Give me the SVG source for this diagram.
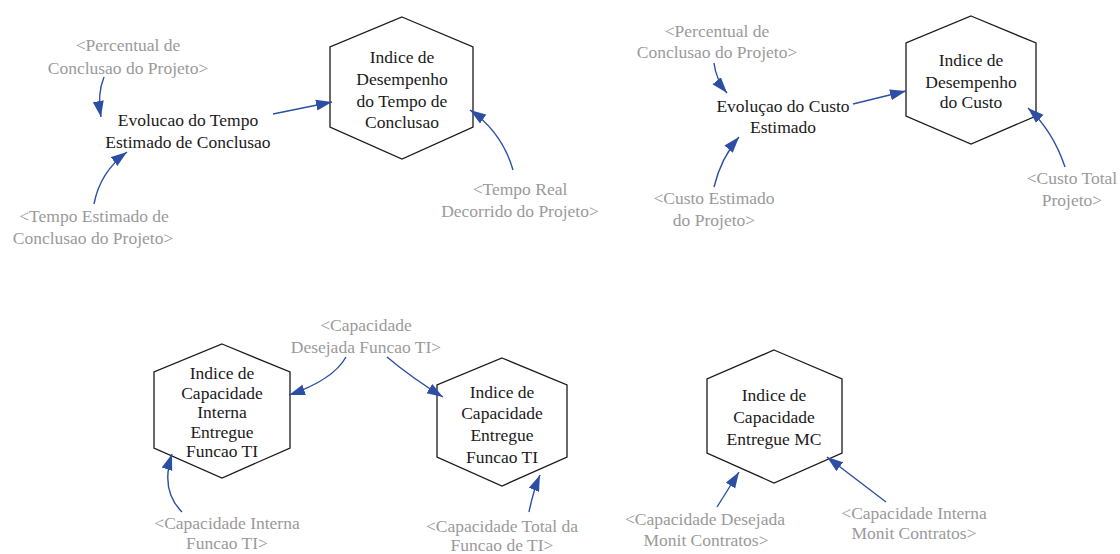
<svg xmlns="http://www.w3.org/2000/svg" width="1120" height="554" viewBox="0 0 1120 554" font-family="'Liberation Serif', 'Times New Roman', Tinos, 'DejaVu Serif', serif">
<style>
text{font-family:'Liberation Serif','Times New Roman',Tinos,'DejaVu Serif',serif;font-size:17.5px;text-anchor:middle}
.n{fill:#1a1a1a}
.g{fill:#9a9a9a}
.hex{fill:#ffffff;stroke:#1a1a1a;stroke-width:1.3}
.c{fill:none;stroke:#2c4fa3;stroke-width:1.4;marker-end:url(#ah)}
</style>
<defs>
<marker id="ah" markerUnits="userSpaceOnUse" markerWidth="18" markerHeight="12" refX="16" refY="6" orient="auto">
<path d="M0,0.5 L16,6 L0,11.5 z" fill="#2c4fa3"/>
</marker>
</defs>
<rect width="1120" height="554" fill="#ffffff"/>

<g id="n_perc1"><text class="g" x="128" y="51">&lt;Percentual de</text><text class="g" x="128" y="74">Conclusao do Projeto&gt;</text></g>
<g id="n_evol_tempo"><text class="n" x="188" y="126">Evolucao do Tempo</text><text class="n" x="188" y="148">Estimado de Conclusao</text></g>
<g id="n_idt"><polygon class="hex" points="402,17 473,47 473,127 402,159 330,127 330,47"/>
<text class="n" x="402" y="63">Indice de</text><text class="n" x="402" y="85">Desempenho</text><text class="n" x="402" y="107">do Tempo de</text><text class="n" x="402" y="128">Conclusao</text></g>
<g id="n_treal"><text class="g" x="520" y="195">&lt;Tempo Real</text><text class="g" x="520" y="217">Decorrido do Projeto&gt;</text></g>
<g id="n_test"><text class="g" x="94" y="222">&lt;Tempo Estimado de</text><text class="g" x="93" y="244">Conclusao do Projeto&gt;</text></g>

<g id="n_perc2"><text class="g" x="717" y="37">&lt;Percentual de</text><text class="g" x="717" y="58">Conclusao do Projeto&gt;</text></g>
<g id="n_evol_custo"><text class="n" x="783" y="112">Evoluçao do Custo</text><text class="n" x="783" y="133">Estimado</text></g>
<g id="n_idc"><polygon class="hex" points="971,16 1036,43 1036,116 971,144 906,116 906,43"/>
<text class="n" x="971" y="66">Indice de</text><text class="n" x="971" y="88">Desempenho</text><text class="n" x="971" y="108">do Custo</text></g>
<g id="n_ctotal"><text class="g" x="1072" y="184">&lt;Custo Total</text><text class="g" x="1072" y="206">Projeto&gt;</text></g>
<g id="n_cest"><text class="g" x="714" y="204">&lt;Custo Estimado</text><text class="g" x="714" y="226">do Projeto&gt;</text></g>

<g id="n_capdes"><text class="g" x="366" y="331">&lt;Capacidade</text><text class="g" x="366" y="353">Desejada Funcao TI&gt;</text></g>
<g id="n_icie"><polygon class="hex" points="222,344 290,372 290,448 222,478 154,448 154,372"/>
<text class="n" x="222" y="379">Indice de</text><text class="n" x="222" y="399">Capacidade</text><text class="n" x="222" y="418">Interna</text><text class="n" x="222" y="438">Entregue</text><text class="n" x="222" y="457">Funcao TI</text></g>
<g id="n_ice"><polygon class="hex" points="502,358 567,385 567,457 502,486 437,457 437,385"/>
<text class="n" x="502" y="398">Indice de</text><text class="n" x="502" y="419">Capacidade</text><text class="n" x="502" y="441">Entregue</text><text class="n" x="502" y="463">Funcao TI</text></g>
<g id="n_capint"><text class="g" x="227" y="529">&lt;Capacidade Interna</text><text class="g" x="227" y="549">Funcao TI&gt;</text></g>
<g id="n_captot"><text class="g" x="502" y="532">&lt;Capacidade Total da</text><text class="g" x="502" y="551">Funcao de TI&gt;</text></g>

<g id="n_icmc"><polygon class="hex" points="774,350 842,379 842,453 774,483 707,453 707,379"/>
<text class="n" x="774" y="401">Indice de</text><text class="n" x="774" y="423">Capacidade</text><text class="n" x="774" y="445">Entregue MC</text></g>
<g id="n_capdesmc"><text class="g" x="705" y="525">&lt;Capacidade Desejada</text><text class="g" x="706" y="546">Monit Contratos&gt;</text></g>
<g id="n_capintmc"><text class="g" x="914" y="519">&lt;Capacidade Interna</text><text class="g" x="914" y="539">Monit Contratos&gt;</text></g>

<g id="connectors">
<path class="c" d="M104,77 Q97,94 101,117"/>
<path class="c" d="M94,204 Q100,172 127,152"/>
<path class="c" d="M273,114 L332,102"/>
<path class="c" d="M513,170 Q502,132 470,110"/>
<path class="c" d="M714,63 Q716,80 727,93"/>
<path class="c" d="M714,187 Q721,158 739,137"/>
<path class="c" d="M853,104 L906,91"/>
<path class="c" d="M1065,167 Q1053,131 1028,108"/>
<path class="c" d="M346,357 Q333,380 289,395"/>
<path class="c" d="M387,357 Q412,378 443,397"/>
<path class="c" d="M182,512 Q160,490 172,454"/>
<path class="c" d="M529,512 Q533,492 540,475"/>
<path class="c" d="M717,507 L739,472"/>
<path class="c" d="M886,502 L827,457"/>
</g>
</svg>
